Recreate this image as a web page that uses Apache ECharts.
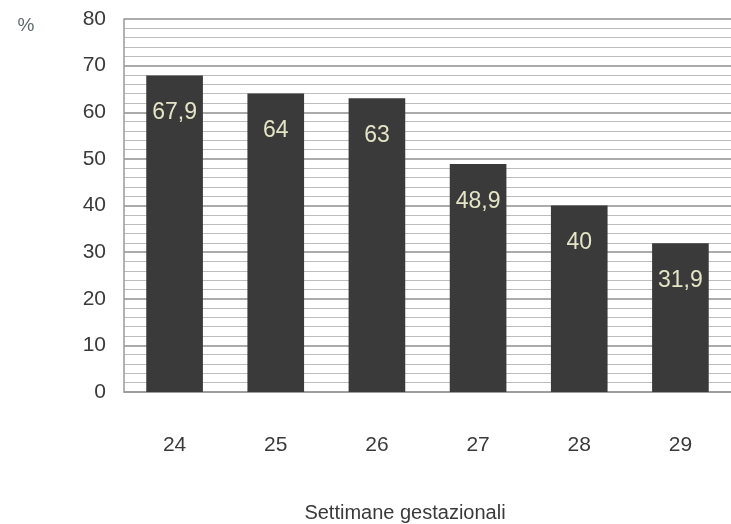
<!DOCTYPE html>
<html>
<head>
<meta charset="utf-8">
<script src="https://cdn.jsdelivr.net/npm/echarts@6/dist/echarts.min.js"></script>
<style>
  html, body { margin: 0; padding: 0; background: #fff; }
  #chart { width: 731px; height: 524px; }
</style>
</head>
<body>
<div id="chart"></div>
<script>
const weeks = ['24', '25', '26', '27', '28', '29']
const percent = [67.9, 64, 63, 48.9, 40, 31.9]
const yTicks = [0, 10, 20, 30, 40, 50, 60, 70, 80]

const chart = echarts.init(document.getElementById('chart'))

chart.setOption({
  animation: false,
  textStyle: { fontFamily: 'Liberation Sans, Arial, sans-serif' },
  title: [
    {
      text: 'Settimane gestazionali',
      left: 400, top: 498, textAlign: 'center',
      textStyle: { fontSize: 20, fontWeight: 'normal', color: '#3a3a3a' }
    },
    {
      text: '%',
      left: 21, top: 11, textAlign: 'center',
      textStyle: { fontSize: 19, fontWeight: 'normal', color: '#5f6b6b' }
    }
  ],
  grid: { left: 124, top: 19, width: 617, height: 373 },
  xAxis: {
    type: 'category',
    data: weeks,
    axisLine: { show: true, lineStyle: { color: '#9a9a9a', width: 1.5 } },
    axisTick: { show: false },
    axisLabel: { margin: 43, fontSize: 21, color: '#3a3a3a' }
  },
  yAxis: {
    type: 'value',
    min: yTicks[0],
    max: yTicks[yTicks.length - 1],
    interval: 10,
    axisLine: { show: true, lineStyle: { color: '#9a9a9a', width: 1.5 } },
    axisTick: { show: false },
    axisLabel: { margin: 18, fontSize: 21, color: '#3a3a3a' },
    splitLine: { show: true, lineStyle: { color: '#8f8f8f', width: 1.5 } },
    minorTick: { show: false, splitNumber: 5 },
    minorSplitLine: { show: true, lineStyle: { color: '#bdbdbd', width: 1.2 } }
  },
  series: [{
    type: 'bar',
    data: percent,
    barCategoryGap: '44%',
    itemStyle: { color: '#3a3a3a' },
    label: {
      show: true,
      position: 'insideTop',
      distance: 26,
      fontSize: 23,
      color: '#e4e4c6',
      formatter: p => String(p.value).replace('.', ',')
    }
  }]
})
</script>
</body>
</html>
